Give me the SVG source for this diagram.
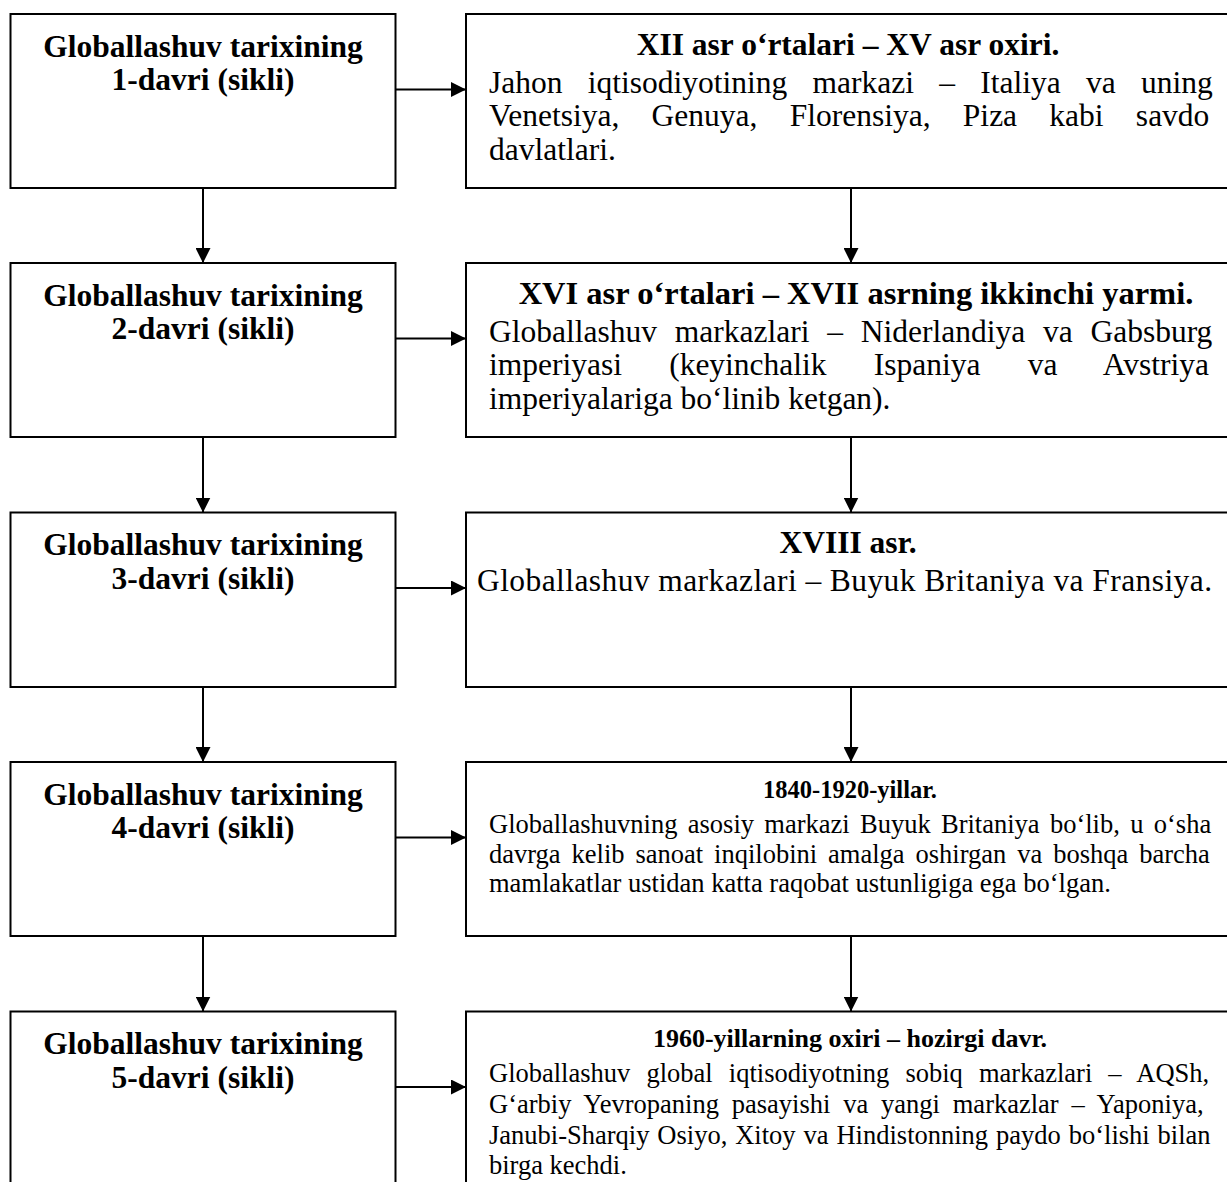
<svg xmlns="http://www.w3.org/2000/svg" width="1227" height="1182" viewBox="0 0 1227 1182">
<style>
.box{fill:#fff;stroke:#000;stroke-width:2}
.ln{stroke:#000;stroke-width:2;fill:none}
text{font-family:"Liberation Serif","Times New Roman",serif;fill:#000}
.lt{font-size:31.5px;font-weight:bold;text-anchor:middle}
.hd{font-size:31.5px;font-weight:bold;text-anchor:middle}
.bd{font-size:31.5px}
.hs{font-size:24.5px;font-weight:bold;text-anchor:middle}
.bs{font-size:26.5px}
</style>
<defs>
<marker id="ah" markerUnits="userSpaceOnUse" markerWidth="15" markerHeight="15" refX="15" refY="7.5" orient="auto">
<path d="M0,0 L15,7.5 L0,15 z" fill="#000"/>
</marker>
</defs>
<rect width="1227" height="1182" fill="#fff"/>

<g id="connectors">
<line class="ln" x1="203" y1="188" x2="203" y2="263" marker-end="url(#ah)"/>
<line class="ln" x1="203" y1="437" x2="203" y2="512.5" marker-end="url(#ah)"/>
<line class="ln" x1="203" y1="687" x2="203" y2="762" marker-end="url(#ah)"/>
<line class="ln" x1="203" y1="936" x2="203" y2="1011.5" marker-end="url(#ah)"/>
<line class="ln" x1="851" y1="188" x2="851" y2="263" marker-end="url(#ah)"/>
<line class="ln" x1="851" y1="437" x2="851" y2="512.5" marker-end="url(#ah)"/>
<line class="ln" x1="851" y1="687" x2="851" y2="762" marker-end="url(#ah)"/>
<line class="ln" x1="851" y1="936" x2="851" y2="1011.5" marker-end="url(#ah)"/>
<line class="ln" x1="395.5" y1="89.5" x2="466" y2="89.5" marker-end="url(#ah)"/>
<line class="ln" x1="395.5" y1="338.5" x2="466" y2="338.5" marker-end="url(#ah)"/>
<line class="ln" x1="395.5" y1="588" x2="466" y2="588" marker-end="url(#ah)"/>
<line class="ln" x1="395.5" y1="837.5" x2="466" y2="837.5" marker-end="url(#ah)"/>
<line class="ln" x1="395.5" y1="1087" x2="466" y2="1087" marker-end="url(#ah)"/>
</g>

<g id="cycle1">
<rect class="box" x="10.5" y="14" width="385" height="174"/>
<text class="lt" x="203" y="56.5">Globallashuv tarixining</text>
<text class="lt" x="203" y="90">1-davri (sikli)</text>
</g>
<g id="cycle2">
<rect class="box" x="10.5" y="263" width="385" height="174"/>
<text class="lt" x="203" y="305.5">Globallashuv tarixining</text>
<text class="lt" x="203" y="339">2-davri (sikli)</text>
</g>
<g id="cycle3">
<rect class="box" x="10.5" y="512.5" width="385" height="174.5"/>
<text class="lt" x="203" y="555">Globallashuv tarixining</text>
<text class="lt" x="203" y="588.5">3-davri (sikli)</text>
</g>
<g id="cycle4">
<rect class="box" x="10.5" y="762" width="385" height="174"/>
<text class="lt" x="203" y="804.5">Globallashuv tarixining</text>
<text class="lt" x="203" y="838">4-davri (sikli)</text>
</g>
<g id="cycle5">
<rect class="box" x="10.5" y="1011.5" width="385" height="190"/>
<text class="lt" x="203" y="1054">Globallashuv tarixining</text>
<text class="lt" x="203" y="1087.5">5-davri (sikli)</text>
</g>

<g id="period1">
<rect class="box" x="466" y="14" width="780" height="174"/>
<text class="hd" x="848" y="54.5">XII asr o‘rtalari – XV asr oxiri.</text>
<text class="bd" x="489" y="92.5" word-spacing="17.4">Jahon iqtisodiyotining markazi – Italiya va uning</text>
<text class="bd" x="489" y="126" word-spacing="24.4">Venetsiya, Genuya, Florensiya, Piza kabi savdo</text>
<text class="bd" x="489" y="159.5">davlatlari.</text>
</g>
<g id="period2">
<rect class="box" x="466" y="263" width="780" height="174"/>
<text class="hd" x="856" y="303.5" style="font-size:32.5px">XVI asr o‘rtalari – XVII asrning ikkinchi yarmi.</text>
<text class="bd" x="489" y="341.5" word-spacing="9.9">Globallashuv markazlari – Niderlandiya va Gabsburg</text>
<text class="bd" x="489" y="375" word-spacing="39.3">imperiyasi (keyinchalik Ispaniya va Avstriya</text>
<text class="bd" x="489" y="408.5">imperiyalariga bo‘linib ketgan).</text>
</g>
<g id="period3">
<rect class="box" x="466" y="512.5" width="780" height="174.5"/>
<text class="hd" x="848" y="553">XVIII asr.</text>
<text class="bd" x="477" y="591" textLength="735" lengthAdjust="spacing">Globallashuv markazlari – Buyuk Britaniya va Fransiya.</text>
</g>
<g id="period4">
<rect class="box" x="466" y="762" width="780" height="174"/>
<text class="hs" x="850" y="797.5">1840-1920-yillar.</text>
<text class="bs" x="489" y="833" word-spacing="3.7">Globallashuvning asosiy markazi Buyuk Britaniya bo‘lib, u o‘sha</text>
<text class="bs" x="489" y="862.5" word-spacing="4.3">davrga kelib sanoat inqilobini amalga oshirgan va boshqa barcha</text>
<text class="bs" x="489" y="892">mamlakatlar ustidan katta raqobat ustunligiga ega bo‘lgan.</text>
</g>
<g id="period5">
<rect class="box" x="466" y="1011.5" width="780" height="190"/>
<text class="hs" x="850" y="1047" style="font-size:26px">1960-yillarning oxiri – hozirgi davr.</text>
<text class="bs" x="489" y="1082" word-spacing="9.5">Globallashuv global iqtisodiyotning sobiq markazlari – AQSh,</text>
<text class="bs" x="489" y="1112.5" word-spacing="6.2">G‘arbiy Yevropaning pasayishi va yangi markazlar – Yaponiya,</text>
<text class="bs" x="489" y="1143.5" word-spacing="1.3">Janubi-Sharqiy Osiyo, Xitoy va Hindistonning paydo bo‘lishi bilan</text>
<text class="bs" x="489" y="1174">birga kechdi.</text>
</g>
</svg>
